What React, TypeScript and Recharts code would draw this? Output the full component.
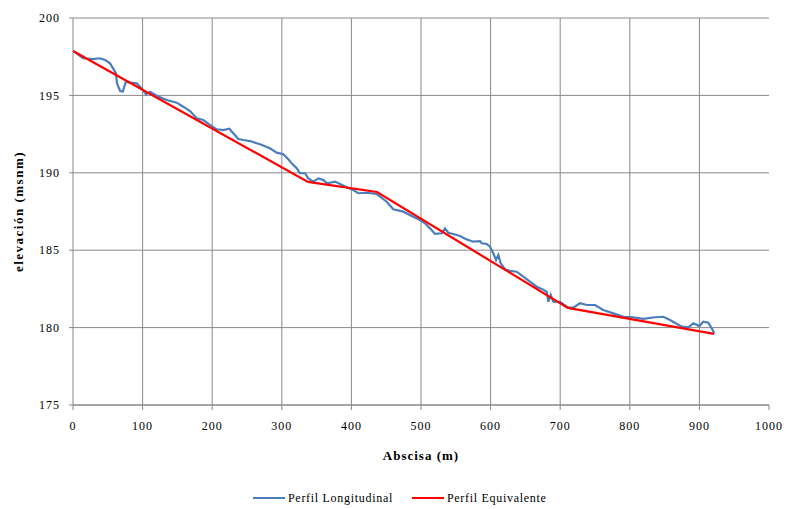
import React from "react";
import {
  LineChart,
  Line,
  XAxis,
  YAxis,
  CartesianGrid,
  Legend,
  ReferenceLine,
} from "recharts";

// Surveyed longitudinal profile: abscissa (m) and elevation (msnm)
const longAbscisa = [
  0, 14.4, 28.7, 38.8, 46.0, 53.2, 57.5, 61.8, 63.2, 67.5, 71.4, 73.7, 76.1, 81.9, 91.5, 96.3,
  102.0, 104.9, 110.6, 122.6, 134.6, 149.0, 158.5, 168.1, 177.7, 187.2, 196.8, 206.5, 215.9,
  224.6, 230.3, 237.5, 244.7, 254.3, 268.7, 283.0, 292.7, 302.2, 309.3, 314.2, 321.4, 326.1,
  333.3, 338.1, 345.3, 352.4, 359.6, 365.4, 376.4, 383.6, 393.2, 402.7, 409.9, 422.0, 436.4,
  450.7, 460.2, 474.6, 488.9, 498.6, 505.7, 512.9, 520.1, 529.7, 534.5, 539.2, 546.4, 556.0,
  565.7, 575.1, 584.8, 587.2, 594.4, 599.1, 603.9, 607.8, 611.1, 614.5, 620.7, 627.9, 637.5,
  647.0, 656.6, 666.2, 674.9, 680.6, 682.9, 686.4, 690.1, 699.7, 711.6, 718.8, 728.4, 738.1,
  750.0, 761.9, 776.3, 790.7, 805.0, 819.4, 836.2, 848.1, 857.8, 874.6, 884.1, 891.2, 899.9,
  905.6, 912.8, 917.7, 921.4,
];
const longElevacion = [
  197.89, 197.4, 197.35, 197.4, 197.29, 197.07, 196.75, 196.43, 195.78, 195.3, 195.24, 195.56,
  195.89, 195.82, 195.78, 195.56, 195.24, 195.07, 195.24, 194.92, 194.7, 194.53, 194.27, 193.99,
  193.52, 193.41, 193.09, 192.81, 192.76, 192.85, 192.55, 192.18, 192.12, 192.05, 191.84, 191.58,
  191.3, 191.2, 190.87, 190.61, 190.29, 189.97, 189.97, 189.64, 189.43, 189.64, 189.53, 189.32,
  189.43, 189.28, 189.06, 188.89, 188.68, 188.71, 188.63, 188.13, 187.64, 187.49, 187.16, 186.95,
  186.74, 186.41, 186.05, 186.09, 186.41, 186.13, 186.05, 185.92, 185.7, 185.55, 185.59, 185.45,
  185.4, 185.23, 184.8, 184.37, 184.69, 184.15, 183.77, 183.66, 183.61, 183.29, 182.97, 182.64,
  182.47, 182.32, 181.67, 182.11, 181.67, 181.67, 181.29, 181.29, 181.57, 181.46, 181.46, 181.14,
  180.92, 180.7, 180.67, 180.56, 180.67, 180.7, 180.49, 180.06, 180.02, 180.28, 180.1, 180.38,
  180.32, 179.96, 179.63,
];

// Equivalent (piecewise straight) profile
const equivAbscisa = [0, 337.6, 436.8, 711.0, 921.0];
const equivElevacion = [197.87, 189.41, 188.76, 181.27, 179.59];

const xTicks = [0, 100, 200, 300, 400, 500, 600, 700, 800, 900, 1000];
const yTicks = [175, 180, 185, 190, 195, 200];
const xGridValues = [100, 200, 300, 400, 500, 600, 700, 800, 900];

const longData = longAbscisa.map((x, i) => ({ x, y: longElevacion[i] }));
const equivData = equivAbscisa.map((x, i) => ({ x, y: equivElevacion[i] }));

const FONT = '"Liberation Serif", "Times New Roman", serif';
const GRID = "#888888";
const BLUE = "#4a7ebb";
const RED = "#ff0000";

const tickStyle = { fontFamily: FONT, fontSize: 12, fill: "#000", letterSpacing: 1 };

const YLabel = (props: any) => {
  const vb = props.viewBox || { x: 0, y: 18, width: 73, height: 387 };
  const cx = 18;
  const cy = vb.y + vb.height / 2;
  return (
    <text
      x={cx}
      y={cy}
      transform={`rotate(-90, ${cx}, ${cy})`}
      textAnchor="middle"
      dominantBaseline="central"
      style={{ fontFamily: FONT, fontSize: 13, fontWeight: "bold", letterSpacing: 1.5 }}
      fill="#000"
    >
      elevación (msnm)
    </text>
  );
};

const XLabel = (props: any) => {
  const vb = props.viewBox || { x: 73, y: 405, width: 696, height: 82 };
  return (
    <text
      x={vb.x + vb.width / 2}
      y={vb.y + 50}
      textAnchor="middle"
      dominantBaseline="central"
      style={{ fontFamily: FONT, fontSize: 13, fontWeight: "bold", letterSpacing: 1 }}
      fill="#000"
    >
      Abscisa (m)
    </text>
  );
};

const legendItems = [
  { name: "Perfil Longitudinal", color: BLUE },
  { name: "Perfil Equivalente", color: RED },
];

const LegendContent = () => (
  <div
    style={{
      height: 22,
      display: "flex",
      alignItems: "center",
      paddingLeft: 253,
      fontFamily: FONT,
      fontSize: 12,
      letterSpacing: 0.7,
      color: "#000",
    }}
  >
    {legendItems.map((it, i) => (
      <div
        key={it.name}
        style={{ display: "flex", alignItems: "center", marginLeft: i === 0 ? 0 : 19 }}
      >
        <svg width={32} height={4} style={{ display: "block" }}>
          <line x1={0} y1={2} x2={32} y2={2} stroke={it.color} strokeWidth={2} />
        </svg>
        <span style={{ marginLeft: 3, whiteSpace: "nowrap" }}>{it.name}</span>
      </div>
    ))}
  </div>
);

export default function App() {
  return (
    <div style={{ position: "absolute", left: 0, top: 0, background: "#fff" }}>
      <LineChart
        width={787}
        height={509}
        margin={{ top: 18, right: 18, bottom: 0, left: 0 }}
      >
        <CartesianGrid vertical={false} stroke={GRID} strokeWidth={1} />
        {xGridValues.map((v) => (
          <ReferenceLine key={v} x={v} stroke={GRID} strokeWidth={1} ifOverflow="extendDomain" />
        ))}
        <XAxis
          dataKey="x"
          type="number"
          domain={[0, 1000]}
          ticks={xTicks}
          allowDuplicatedCategory={false}
          height={82}
          tickSize={5}
          tickMargin={11}
          axisLine={{ stroke: GRID }}
          tickLine={{ stroke: GRID }}
          tick={tickStyle}
          label={<XLabel />}
        />
        <YAxis
          type="number"
          domain={[175, 200]}
          ticks={yTicks}
          width={73}
          tickSize={4}
          tickMargin={9}
          axisLine={{ stroke: GRID }}
          tickLine={{ stroke: GRID }}
          tick={tickStyle}
          label={<YLabel />}
        />
        <Legend verticalAlign="bottom" content={<LegendContent />} />
        <Line
          data={longData}
          dataKey="y"
          name="Perfil Longitudinal"
          type="linear"
          stroke={BLUE}
          strokeWidth={2.2}
          dot={false}
          isAnimationActive={false}
        />
        <Line
          data={equivData}
          dataKey="y"
          name="Perfil Equivalente"
          type="linear"
          stroke={RED}
          strokeWidth={2.2}
          dot={false}
          isAnimationActive={false}
        />
      </LineChart>
    </div>
  );
}
